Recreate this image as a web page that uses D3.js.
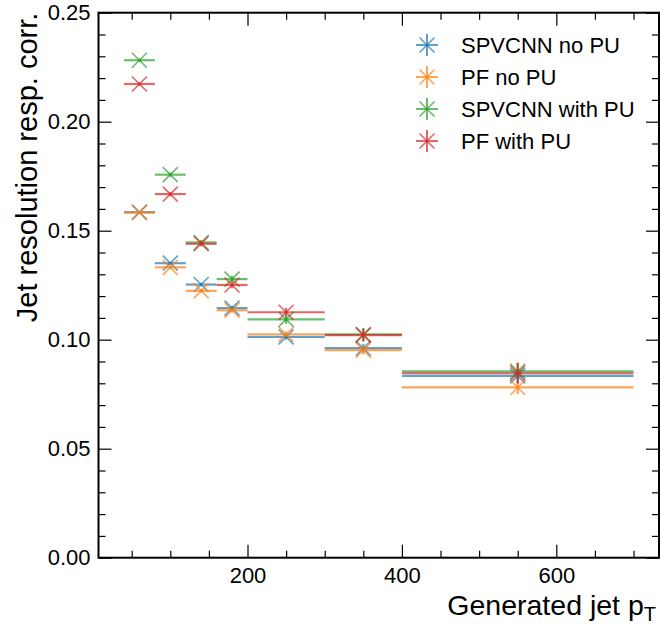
<!DOCTYPE html>
<html>
<head>
<meta charset="utf-8">
<script src="https://cdn.jsdelivr.net/npm/d3@7"></script>
<style>
  body { margin: 0; background: #fff; }
  text { font-family: "Liberation Sans", Arial, sans-serif; fill: #000; }
</style>
</head>
<body>
<div id="chart"></div>
<script>
// bins of generated jet pT
var binLo = [40, 80, 120, 160, 200, 300, 400];
var binHi = [80, 120, 160, 200, 300, 400, 700];

// resolution values per series
var spvcnnNoPU = [0.1585, 0.1351, 0.1253, 0.1145, 0.1013, 0.0961, 0.0834];
var pfNoPU     = [0.1583, 0.1332, 0.1224, 0.1135, 0.1025, 0.0952, 0.0781];
var spvcnnPU   = [0.2282, 0.1757, 0.1446, 0.1278, 0.1093, 0.1024, 0.0855];
var pfPU       = [0.2173, 0.1668, 0.1440, 0.1251, 0.1126, 0.1021, 0.0846];

// vertical errors
var spvcnnNoPUErr = [0.0005, 0.0006, 0.0008, 0.0010, 0.0012, 0.0020, 0.0030];
var pfNoPUErr     = [0.0005, 0.0006, 0.0008, 0.0010, 0.0012, 0.0020, 0.0030];
var spvcnnPUErr   = [0.0008, 0.0010, 0.0012, 0.0015, 0.0020, 0.0030, 0.0040];
var pfPUErr       = [0.0008, 0.0010, 0.0012, 0.0015, 0.0020, 0.0030, 0.0048];

var seriesNames = ["SPVCNN no PU", "PF no PU", "SPVCNN with PU", "PF with PU"];
var seriesVals = [spvcnnNoPU, pfNoPU, spvcnnPU, pfPU];
var seriesErrs = [spvcnnNoPUErr, pfNoPUErr, spvcnnPUErr, pfPUErr];
var colors = ["#1f77b4", "#ff7f0e", "#2ca02c", "#d62728"];

var xTicks = [200, 400, 600];
var yTicks = [0, 0.05, 0.10, 0.15, 0.20, 0.25];

var W = 660, H = 625;
var pLeft = 98.5, pRight = 659, pTop = 12.7, pBottom = 557.7;

var svg = d3.select("#chart").append("svg")
    .attr("width", W)
    .attr("height", H);

var x = d3.scaleLinear().domain([7, 733]).range([pLeft, pRight]);
var y = d3.scaleLinear().domain([0, 0.25]).range([pBottom, pTop]);

var alpha = 0.7;
var ms = 7.5; // half size of x marker

function xMark(cx, cy) {
    return "M" + (cx - ms) + "," + (cy - ms) + "L" + (cx + ms) + "," + (cy + ms) +
           "M" + (cx - ms) + "," + (cy + ms) + "L" + (cx + ms) + "," + (cy - ms);
}

// data marks
seriesVals.forEach(function(vals, s) {
    var g = svg.append("g");
    var pts = vals.map(function(v, i) {
        return { lo: binLo[i], hi: binHi[i], c: (binLo[i] + binHi[i]) / 2, v: v, e: seriesErrs[s][i] };
    });
    // horizontal bin width bars
    g.selectAll(".xerr").data(pts).enter().append("line")
        .attr("x1", function(d) { return x(d.lo); })
        .attr("x2", function(d) { return x(d.hi); })
        .attr("y1", function(d) { return y(d.v); })
        .attr("y2", function(d) { return y(d.v); })
        .attr("stroke", colors[s]).attr("stroke-width", 2.2)
        .attr("stroke-opacity", alpha);
    // vertical error
    g.selectAll(".yerr").data(pts).enter().append("line")
        .attr("x1", function(d) { return x(d.c); })
        .attr("x2", function(d) { return x(d.c); })
        .attr("y1", function(d) { return y(d.v - d.e); })
        .attr("y2", function(d) { return y(d.v + d.e); })
        .attr("stroke", colors[s]).attr("stroke-width", 2.2)
        .attr("stroke-opacity", alpha);
    // x markers
    g.selectAll(".mk").data(pts).enter().append("path")
        .attr("d", function(d) { return xMark(x(d.c), y(d.v)); })
        .attr("stroke", colors[s]).attr("stroke-width", 1.6)
        .attr("fill", "none")
        .attr("stroke-opacity", alpha);
});

// axes with inward ticks on all sides
function tickStyle(g) {
    g.select(".domain").remove();
    g.selectAll(".tick line").attr("stroke", "#000").attr("stroke-width", 1.2);
    g.selectAll(".tick text").style("font-size", "22px").style("font-family", "Liberation Sans, Arial, sans-serif");
}

var xMinor = d3.range(50, 733, 50).filter(function(t) { return t % 200 !== 0; });
var yMinor = d3.range(0, 0.2501, 0.01).filter(function(t, i) { return i % 5 !== 0; });

svg.append("g").attr("transform", "translate(0," + pBottom + ")")
    .call(d3.axisBottom(x).tickValues(xTicks).tickSizeInner(-13).tickPadding(10).tickFormat(d3.format("d")))
    .call(tickStyle);
svg.append("g").attr("transform", "translate(0," + pBottom + ")")
    .call(d3.axisBottom(x).tickValues(xMinor).tickSizeInner(-7).tickFormat(""))
    .call(tickStyle);
svg.append("g").attr("transform", "translate(0," + pTop + ")")
    .call(d3.axisTop(x).tickValues(xTicks).tickSizeInner(-13).tickFormat(""))
    .call(tickStyle);
svg.append("g").attr("transform", "translate(0," + pTop + ")")
    .call(d3.axisTop(x).tickValues(xMinor).tickSizeInner(-7).tickFormat(""))
    .call(tickStyle);

svg.append("g").attr("transform", "translate(" + pLeft + ",0)")
    .call(d3.axisLeft(y).tickValues(yTicks).tickSizeInner(-13).tickPadding(8).tickFormat(d3.format(".2f")))
    .call(tickStyle);
svg.append("g").attr("transform", "translate(" + pLeft + ",0)")
    .call(d3.axisLeft(y).tickValues(yMinor).tickSizeInner(-7).tickFormat(""))
    .call(tickStyle);
svg.append("g").attr("transform", "translate(" + pRight + ",0)")
    .call(d3.axisRight(y).tickValues(yTicks).tickSizeInner(-13).tickFormat(""))
    .call(tickStyle);
svg.append("g").attr("transform", "translate(" + pRight + ",0)")
    .call(d3.axisRight(y).tickValues(yMinor).tickSizeInner(-7).tickFormat(""))
    .call(tickStyle);

// frame
svg.append("rect")
    .attr("x", pLeft).attr("y", pTop)
    .attr("width", pRight - pLeft).attr("height", pBottom - pTop)
    .attr("fill", "none").attr("stroke", "#000").attr("stroke-width", 2);

// axis labels
var xl = svg.append("text")
    .attr("x", 656).attr("y", 615)
    .attr("text-anchor", "end")
    .style("font-size", "28.5px");
xl.append("tspan").text("Generated jet p");
xl.append("tspan").attr("dy", 6).style("font-size", "20px").text("T");

svg.append("text")
    .attr("transform", "translate(37," + pTop + ") rotate(-90)")
    .attr("text-anchor", "end")
    .style("font-size", "29px")
    .text("Jet resolution resp. corr.");

// legend
var leg = svg.append("g");
seriesNames.forEach(function(name, s) {
    var cy = 45 + s * 32, cx = 427;
    var lg = leg.append("g");
    lg.append("line").attr("x1", cx - 11).attr("x2", cx + 11).attr("y1", cy).attr("y2", cy)
        .attr("stroke", colors[s]).attr("stroke-width", 2).attr("stroke-opacity", alpha);
    lg.append("line").attr("x1", cx).attr("x2", cx).attr("y1", cy - 11).attr("y2", cy + 11)
        .attr("stroke", colors[s]).attr("stroke-width", 2).attr("stroke-opacity", alpha);
    lg.append("path")
        .attr("d", xMark(cx, cy))
        .attr("stroke", colors[s]).attr("stroke-width", 1.6).attr("stroke-opacity", alpha);
    lg.append("text").attr("x", 461).attr("y", cy + 8)
        .style("font-size", "22px").text(name);
});
</script>
</body>
</html>
